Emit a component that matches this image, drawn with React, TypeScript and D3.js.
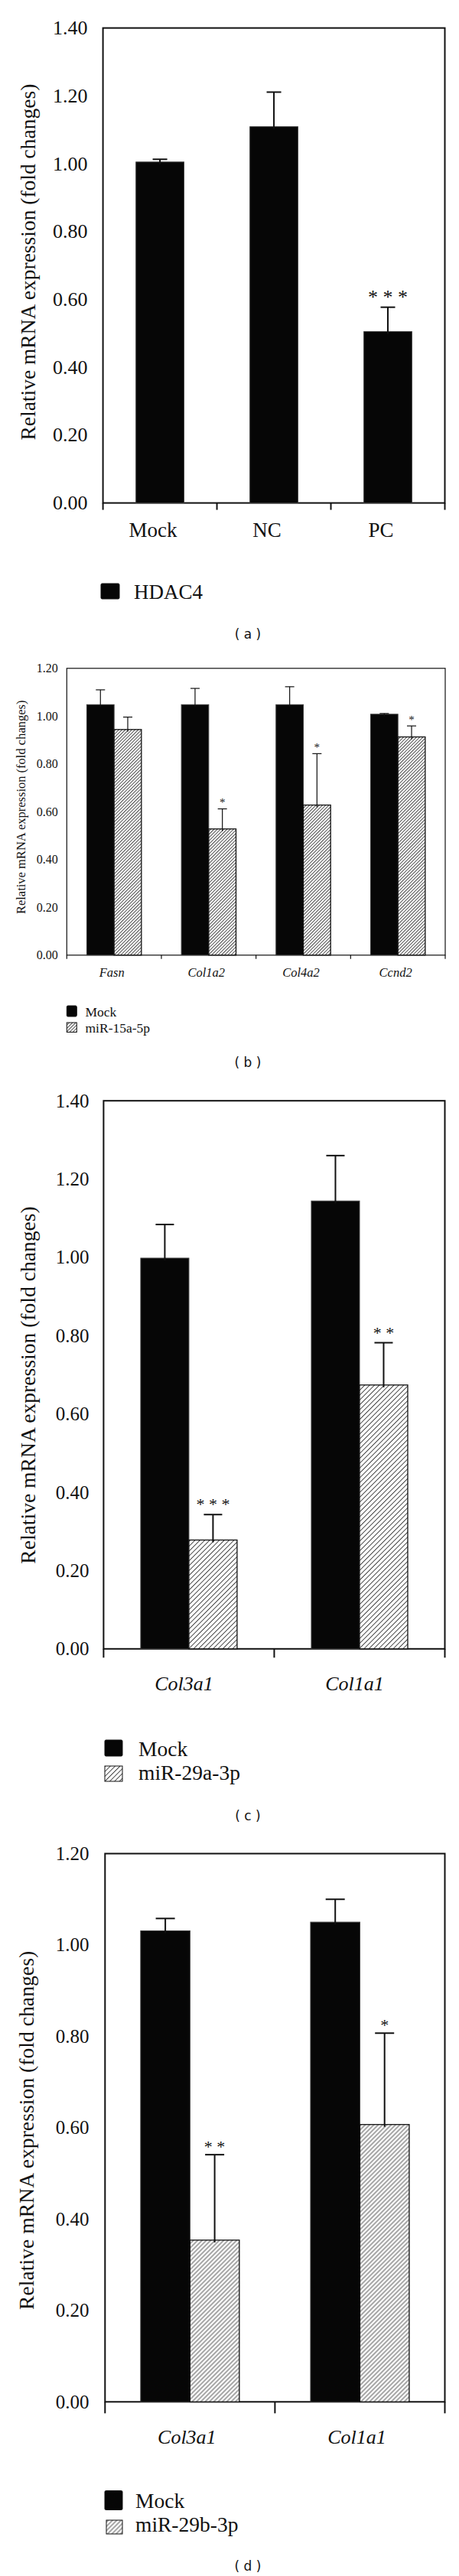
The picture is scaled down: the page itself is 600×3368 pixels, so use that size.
import React from 'react';
import * as d3 from 'd3';

// ---------- Data ----------
// (a)
const catsA = ['Mock', 'NC', 'PC'];
const hdac4 = [1.005, 1.109, 0.505];
const hdac4Err = [0.008, 0.102, 0.072];
const hdac4Sig = ['', '', '* * *'];
const ticksA = [0, 0.2, 0.4, 0.6, 0.8, 1.0, 1.2, 1.4];

// (b)
const catsB = ['Fasn', 'Col1a2', 'Col4a2', 'Ccnd2'];
const mockB = [1.048, 1.048, 1.048, 1.008];
const mockBErr = [0.062, 0.068, 0.075, 0.003];
const mir15 = [0.944, 0.528, 0.628, 0.913];
const mir15Err = [0.052, 0.084, 0.215, 0.046];
const mir15Sig = ['', '*', '*', '*'];
const ticksB = [0, 0.2, 0.4, 0.6, 0.8, 1.0, 1.2];

// (c)
const catsC = ['Col3a1', 'Col1a1'];
const mockC = [0.998, 1.144];
const mockCErr = [0.086, 0.116];
const mir29a = [0.278, 0.674];
const mir29aErr = [0.065, 0.108];
const mir29aSig = ['* * *', '* *'];
const ticksC = [0, 0.2, 0.4, 0.6, 0.8, 1.0, 1.2, 1.4];

// (d)
const catsD = ['Col3a1', 'Col1a1'];
const mockD = [1.031, 1.05];
const mockDErr = [0.027, 0.05];
const mir29b = [0.354, 0.607];
const mir29bErr = [0.187, 0.2];
const mir29bSig = ['* *', '*'];
const ticksD = [0, 0.2, 0.4, 0.6, 0.8, 1.0, 1.2];

const yTitle = 'Relative mRNA expression (fold changes)';

// ---------- Layout ----------
const SERIF = "'Liberation Serif', 'Times New Roman', serif";
const SANS = "'DejaVu Sans', Verdana, sans-serif";

type Series = { name: string; values: number[]; errs: number[]; sig?: string[]; kind: 'solid' | 'hatch' };

const layoutA = {
  id: 'a', left: 134.6, right: 581.5, top: 36.6, bottom: 657.6, yMax: 1.4, barW: 62.7,
  tickFs: 26, tickX: 114.6, ylabX: 36.5, ylabFs: 27.5, ylabDy: -4.5,
  xlabFs: 27, xlabY: 702, xlabDx: -9, italic: false, tickLen: 9, frameW: 2, errW: 2, capW: 19,
  sigFs: 26, sigGap: 18, legendFs: 27,
  legend: [{ x: 132, y: 763, w: 24, h: 20, tx: 175, ty: 783 }],
  captionY: 829, hatchGap: 4,
};
const layoutB = {
  id: 'b', left: 87.3, right: 582, top: 873.8, bottom: 1248.8, yMax: 1.2, barW: 35.7,
  tickFs: 16, tickX: 75.8, ylabX: 27, ylabFs: 16.5, ylabDy: -6,
  xlabFs: 16.5, xlabY: 1277, xlabDx: -3, italic: true, tickLen: 5, frameW: 1.2, errW: 1.2, capW: 12,
  sigFs: 15, sigGap: 11, legendFs: 17.5,
  legend: [
    { x: 87.3, y: 1315, w: 13, h: 14, tx: 111.5, ty: 1329 },
    { x: 87.3, y: 1337, w: 13, h: 12.5, tx: 111.5, ty: 1349.5 },
  ],
  captionY: 1389, hatchGap: 3,
};
const layoutC = {
  id: 'c', left: 135.4, right: 581.5, top: 1439.2, bottom: 2155.8, yMax: 1.4, barW: 63,
  tickFs: 25, tickX: 116.5, ylabX: 36.5, ylabFs: 27.6, ylabDy: 13.5,
  xlabFs: 26, xlabY: 2209.6, xlabDx: -6.5, italic: true, tickLen: 11.5, frameW: 2, errW: 2, capW: 24,
  sigFs: 22, sigGap: 17, legendFs: 27.5,
  legend: [
    { x: 137, y: 2275, w: 23, h: 21, tx: 181, ty: 2296 },
    { x: 137, y: 2309, w: 23, h: 20, tx: 181, ty: 2327 },
  ],
  captionY: 2374, hatchGap: 4.5,
};
const layoutD = {
  id: 'd', left: 137.3, right: 581.5, top: 2423.5, bottom: 3140.3, yMax: 1.2, barW: 64.5,
  tickFs: 25, tickX: 116.5, ylabX: 34.6, ylabFs: 27.7, ylabDy: 3.5,
  xlabFs: 26, xlabY: 3195, xlabDx: -4, italic: true, tickLen: 15, frameW: 2, errW: 2, capW: 25,
  sigFs: 22, sigGap: 14, legendFs: 27.5,
  legend: [
    { x: 137, y: 3256.5, w: 23, h: 25, tx: 177, ty: 3279 },
    { x: 139, y: 3295, w: 21, h: 18, tx: 177, ty: 3310 },
  ],
  captionY: 3354.5, hatchGap: 4,
};

function Panel({ L, cats, series, ticks }: { L: any; cats: string[]; series: Series[]; ticks: number[] }) {
  const x = d3.scaleBand<string>().domain(cats).range([L.left, L.right]).padding(0);
  const y = d3.scaleLinear().domain([0, L.yMax]).range([L.bottom, L.top]);
  const groupW = L.barW * series.length;
  const xs = d3.scaleBand<string>().domain(series.map((s) => s.name)).range([0, groupW]);
  const pid = `hatch-${L.id}`;
  const fillOf = (s: Series) => (s.kind === 'solid' ? '#060606' : `url(#${pid})`);
  const boundaries = d3.range(cats.length + 1).map((i) => L.left + i * x.step());
  const midY = (L.top + L.bottom) / 2 + L.ylabDy;

  return (
    <g>
      <defs>
        <pattern id={pid} patternUnits="userSpaceOnUse" width={L.hatchGap} height={L.hatchGap} patternTransform="rotate(45)">
          <rect width={L.hatchGap} height={L.hatchGap} fill="#fff" />
          <line x1={L.hatchGap / 2} y1={0} x2={L.hatchGap / 2} y2={L.hatchGap} stroke="#3a3a3a" strokeWidth={0.9} />
        </pattern>
      </defs>
      {/* frame */}
      <rect x={L.left} y={L.top} width={L.right - L.left} height={L.bottom - L.top} fill="none" stroke="#111" strokeWidth={L.frameW} />
      {/* bars */}
      {series.map((s) =>
        cats.map((c, i) => {
          const x0 = (x(c) as number) + (x.bandwidth() - groupW) / 2 + (xs(s.name) as number);
          const top = y(s.values[i]);
          return (
            <rect key={s.name + c} x={x0} y={top} width={xs.bandwidth()} height={L.bottom - top}
              fill={fillOf(s)} stroke={s.kind === 'solid' ? '#3a3a3a' : '#111'} strokeWidth={s.kind === 'solid' ? 1 : 1.3} />
          );
        })
      )}
      {/* error bars and significance */}
      {series.map((s) =>
        cats.map((c, i) => {
          const cx = (x(c) as number) + (x.bandwidth() - groupW) / 2 + (xs(s.name) as number) + xs.bandwidth() / 2;
          const top = y(s.values[i]);
          const et = y(s.values[i] + s.errs[i]);
          const sig = s.sig ? s.sig[i] : '';
          return (
            <g key={'e' + s.name + c}>
              <line x1={cx} x2={cx} y1={top + 3} y2={et} stroke="#111" strokeWidth={L.errW} />
              <line x1={cx - L.capW / 2} x2={cx + L.capW / 2} y1={et} y2={et} stroke="#111" strokeWidth={L.errW} />
              {sig && (
                <text x={cx} y={et - L.sigGap + 0.5 * L.sigFs} textAnchor="middle" fontFamily={SERIF} fontSize={L.sigFs} fill="#111">
                  {sig}
                </text>
              )}
            </g>
          );
        })
      )}
      {/* x-axis ticks */}
      {boundaries.map((bx, i) => (
        <line key={'t' + i} x1={bx} x2={bx} y1={L.bottom} y2={L.bottom + L.tickLen} stroke="#111" strokeWidth={L.frameW} />
      ))}
      {/* y tick labels */}
      {ticks.map((t) => (
        <text key={'y' + t} x={L.tickX} y={y(t)} textAnchor="end" dominantBaseline="central" fontFamily={SERIF} fontSize={L.tickFs} fill="#111">
          {d3.format('.2f')(t)}
        </text>
      ))}
      {/* x labels */}
      {cats.map((c) => (
        <text key={'x' + c} x={(x(c) as number) + x.bandwidth() / 2 + L.xlabDx} y={L.xlabY} textAnchor="middle"
          fontFamily={SERIF} fontSize={L.xlabFs} fontStyle={L.italic ? 'italic' : 'normal'} fill="#111">
          {c}
        </text>
      ))}
      {/* y title */}
      <text transform={`translate(${L.ylabX},${midY}) rotate(-90)`} textAnchor="middle" dominantBaseline="central"
        fontFamily={SERIF} fontSize={L.ylabFs} fill="#111">
        {yTitle}
      </text>
      {/* legend */}
      {series.map((s, i) => {
        const g = L.legend[i];
        return (
          <g key={'l' + s.name}>
            <rect x={g.x} y={g.y} width={g.w} height={g.h} fill={fillOf(s)} stroke="#111" strokeWidth={1} rx={s.kind === 'solid' ? 1.5 : 0} />
            <text x={g.tx} y={g.ty} fontFamily={SERIF} fontSize={L.legendFs} fill="#111">{s.name}</text>
          </g>
        );
      })}
      {/* caption */}
      <text x={324} y={L.captionY} textAnchor="middle" dominantBaseline="central" fontFamily={SANS} fontSize={17} fill="#111">
        {`( ${L.id} )`}
      </text>
    </g>
  );
}

export default function App() {
  return (
    <svg width={600} height={3368} viewBox="0 0 600 3368" style={{ position: 'absolute', left: 0, top: 0, display: 'block', background: '#fff' }}>
      <rect width={600} height={3368} fill="#fff" />
      <Panel L={layoutA} cats={catsA} ticks={ticksA}
        series={[{ name: 'HDAC4', values: hdac4, errs: hdac4Err, sig: hdac4Sig, kind: 'solid' }]} />
      <Panel L={layoutB} cats={catsB} ticks={ticksB}
        series={[
          { name: 'Mock', values: mockB, errs: mockBErr, kind: 'solid' },
          { name: 'miR-15a-5p', values: mir15, errs: mir15Err, sig: mir15Sig, kind: 'hatch' },
        ]} />
      <Panel L={layoutC} cats={catsC} ticks={ticksC}
        series={[
          { name: 'Mock', values: mockC, errs: mockCErr, kind: 'solid' },
          { name: 'miR-29a-3p', values: mir29a, errs: mir29aErr, sig: mir29aSig, kind: 'hatch' },
        ]} />
      <Panel L={layoutD} cats={catsD} ticks={ticksD}
        series={[
          { name: 'Mock', values: mockD, errs: mockDErr, kind: 'solid' },
          { name: 'miR-29b-3p', values: mir29b, errs: mir29bErr, sig: mir29bSig, kind: 'hatch' },
        ]} />
    </svg>
  );
}
